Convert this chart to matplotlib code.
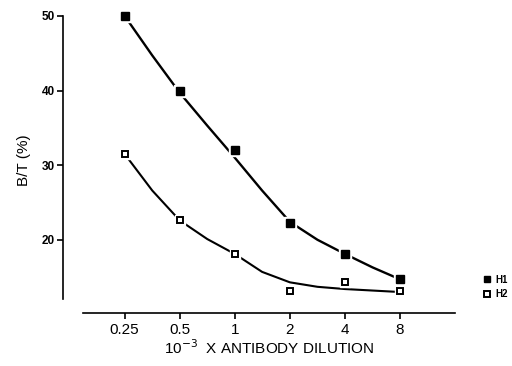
import matplotlib.pyplot as plt

# antibody dilution (x 10^-3)
dilution = [0.25, 0.5, 1, 2, 4, 8]
tick_labels = ["0.25", "0.5", "1", "2", "4", "8"]

# measured B/T (%)
h1_points = [50.0, 40.0, 32.0, 22.2, 18.1, 14.7]
h2_points = [31.5, 22.6, 18.1, 13.2, 14.3, 13.2]

# fitted curves as drawn in the figure
curve_x = [0.25, 0.354, 0.5, 0.707, 1, 1.41, 2, 2.83, 4, 5.66, 8]
h1_curve = [50.0, 44.7, 39.7, 35.3, 31.0, 26.6, 22.4, 20.0, 18.1, 16.3, 14.7]
h2_curve = [31.5, 26.6, 22.6, 20.1, 18.1, 15.7, 14.3, 13.7, 13.4, 13.2, 13.0]

plt.rcParams['font.family'] = ['Liberation Sans', 'DejaVu Sans']

fig = plt.figure(figsize=(5.12, 3.66), dpi=100)
ax = fig.add_axes([0.162, 0.145, 0.727, 0.832])

ax.plot(curve_x, h1_curve, color='black', lw=1.7, zorder=1)
ax.plot(curve_x, h2_curve, color='black', lw=1.5, zorder=1)

# white halo so the line breaks around each marker
ax.plot(dilution, h1_points, 's', ms=8, color='white', zorder=2)
ax.plot(dilution, h2_points, 's', ms=7.5, color='white', zorder=2)
ax.plot(dilution, h1_points, 's', ms=5.2, color='black', zorder=3, label='H1')
ax.plot(dilution, h2_points, 's', ms=4.3, mfc='white', mec='black', mew=1.4,
        zorder=3, label='H2')

ax.set_xscale('log', base=2)
ax.set_xlim(0.148, 16)
ax.set_ylim(10.2, 51)
ax.set_xticks(dilution)
ax.set_xticklabels(tick_labels)
ax.minorticks_off()
ax.set_yticks([20, 30, 40, 50])

for s in ['top', 'right']:
    ax.spines[s].set_visible(False)
ax.spines['left'].set_position(('outward', 14))
ax.spines['left'].set_bounds(12, 50)
ax.spines['left'].set_linewidth(1.2)
ax.spines['bottom'].set_linewidth(1.2)
ax.tick_params(axis='both', direction='out', length=4, width=1.2,
               labelsize=11)
ax.tick_params(axis='y', labelsize=8.5, pad=2)
for t in ax.get_yticklabels():
    t.set_fontweight('bold')

ax.set_ylabel('B/T (%)', fontsize=11, labelpad=8)
ax.set_xlabel(r'10$^{-3}$  X ANTIBODY DILUTION', fontsize=11, labelpad=1)

leg = ax.legend(loc='center left', bbox_to_anchor=(1.068, 0.085), frameon=False,
                fontsize=7, handlelength=0.6, handletextpad=0.5,
                labelspacing=0.45, borderaxespad=0, markerscale=0.85)
for t in leg.get_texts():
    t.set_fontweight('bold')

fig.savefig('out.png', dpi=100)
